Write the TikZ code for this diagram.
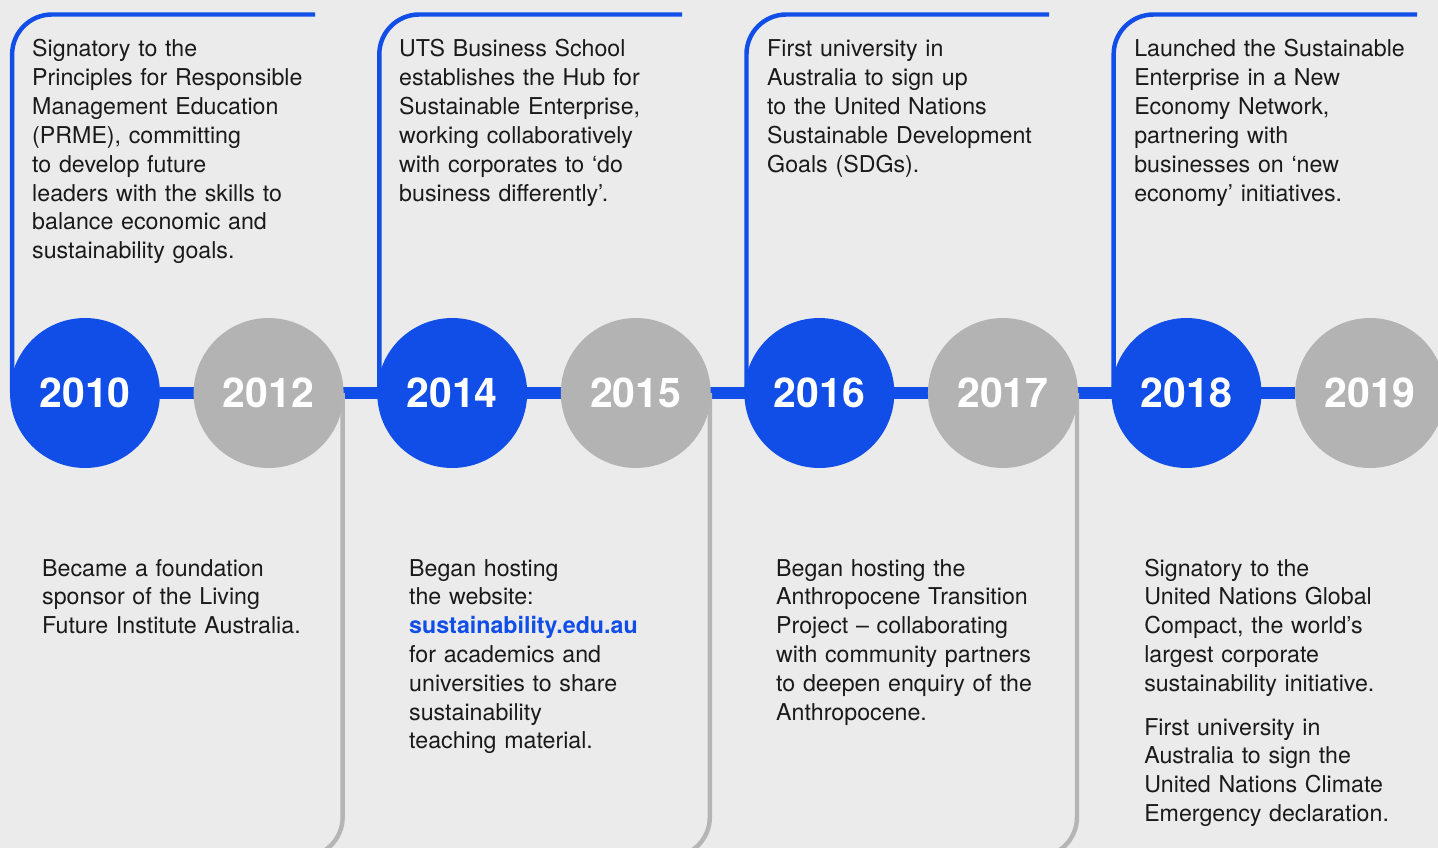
\documentclass[tikz,border=0pt]{standalone}
\usepackage{fontspec}
\setmainfont{TeX Gyre Heros}
\usepackage{xcolor}
\usetikzlibrary{backgrounds}
\definecolor{utsblue}{HTML}{114EE8}
\definecolor{yeargrey}{HTML}{B3B3B3}
\definecolor{linegrey}{HTML}{B5B5B5}
\definecolor{pagegrey}{HTML}{EBEBEB}
\definecolor{inkdark}{HTML}{1A1A1A}

\begin{document}
\begin{tikzpicture}[x=0.03cm, y=-0.03cm, node distance=156.7pt]
        \tikzstyle{yearblue}=[circle, fill=utsblue, minimum size=128pt, inner sep=0pt, text=white, font=\fontsize{35}{35}\selectfont\bfseries]
        \tikzstyle{yeargray}=[yearblue, fill=yeargrey]
        \tikzstyle{note}=[anchor=base west, inner sep=0pt, text width=300pt, align=left, text=inkdark, font=\fontsize{19.8}{24.6}\selectfont]
        \tikzstyle{bluebar}=[draw=utsblue, line width=3.8pt, rounded corners=34pt]
        \tikzstyle{graybar}=[draw=linegrey, line width=3.8pt, rounded corners=34pt]
        \useasboundingbox (0,0) rectangle (1438,848);
        % years
        \node[yearblue] (y2010) at (85,393) {2010};
        \node[yeargray, right of=y2010] (y2012) {2012};
        \node[yearblue, right of=y2012] (y2014) {2014};
        \node[yeargray, right of=y2014] (y2015) {2015};
        \node[yearblue, right of=y2015] (y2016) {2016};
        \node[yeargray, right of=y2016] (y2017) {2017};
        \node[yearblue, right of=y2017] (y2018) {2018};
        \node[yeargray, right of=y2018] (y2019) {2019};
        % free ends of the brackets
        \coordinate (top2010) at (315,14.5);
        \coordinate (top2014) at (682,14.5);
        \coordinate (top2016) at (1049,14.5);
        \coordinate (top2018) at (1417,14.5);
        \coordinate (bot2012) at (240,857);
        \coordinate (bot2015) at (607,857);
        \coordinate (bot2017) at (974,857);
        \begin{scope}[on background layer]
            \fill[pagegrey] (0,0) rectangle (1438,848);
            \draw[utsblue, line width=11pt] (y2010) -- (y2019);
            \draw[bluebar] ([xshift=2pt]y2010.west) |- (top2010);
            \draw[bluebar] ([xshift=2pt]y2014.west) |- (top2014);
            \draw[bluebar] ([xshift=2pt]y2016.west) |- (top2016);
            \draw[bluebar] ([xshift=2pt]y2018.west) |- (top2018);
            \draw[graybar] ([xshift=-1pt]y2012.east) |- (bot2012);
            \draw[graybar] ([xshift=-1pt]y2015.east) |- (bot2015);
            \draw[graybar] ([xshift=-1pt]y2017.east) |- (bot2017);
        \end{scope}
        % notes above
        \node[note] (t2010) at (32,57) {Signatory to the\\Principles for Responsible\\Management Education\\(PRME), committing\\to develop future\\leaders with the skills to\\balance economic and\\sustainability goals.};
        \node[note] (t2014) at (399,57) {UTS Business School\\establishes the Hub for\\Sustainable Enterprise,\\working collaboratively\\with corporates to ‘do\\business differently’.};
        \node[note] (t2016) at (767,57) {First university in\\Australia to sign up\\to the United Nations\\Sustainable Development\\Goals (SDGs).};
        \node[note] (t2018) at (1134,57) {Launched the Sustainable\\Enterprise in a New\\Economy Network,\\partnering with\\businesses on ‘new\\economy’ initiatives.};
        % notes below
        \node[note] (b2012) at (42,576) {Became a foundation\\sponsor of the Living\\Future Institute Australia.};
        \node[note] (b2015) at (409,576) {Began hosting\\the website:\\{\bfseries\color{utsblue}sustainability.edu.au}\\for academics and\\universities to share\\sustainability\\teaching material.};
        \node[note] (b2017) at (776,576) {Began hosting the\\Anthropocene Transition\\Project – collaborating\\with community partners\\to deepen enquiry of the\\Anthropocene.};
        \node[note] (b2019) at (1144,576) {Signatory to the\\United Nations Global\\Compact, the world’s\\largest corporate\\sustainability initiative.\\[12.8pt]First university in\\Australia to sign the\\United Nations Climate\\Emergency declaration.};
    \end{tikzpicture}
\end{document}
